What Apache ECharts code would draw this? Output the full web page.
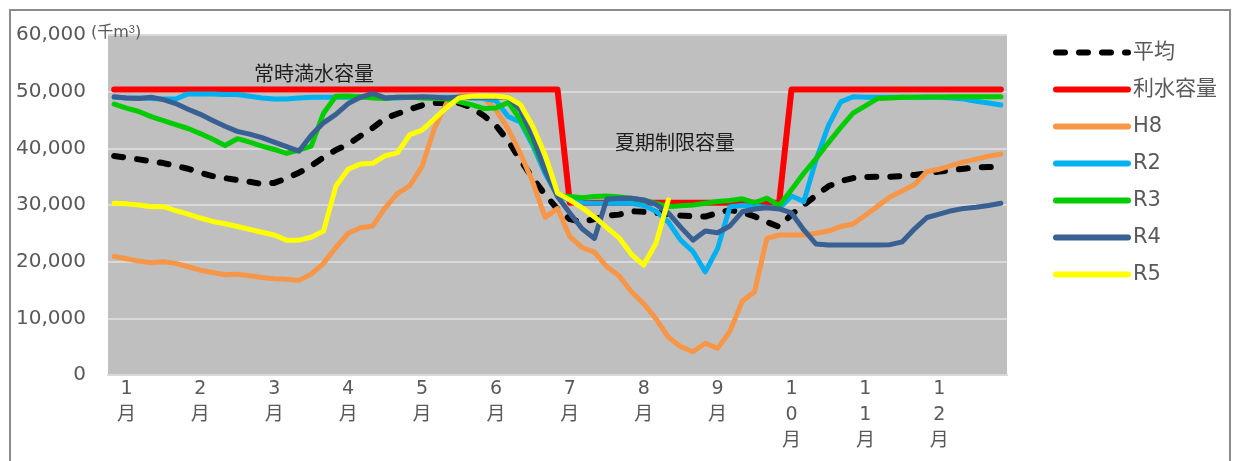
<!DOCTYPE html>
<html><head><meta charset="utf-8">
<script src="https://cdn.jsdelivr.net/npm/echarts@6/dist/echarts.min.js"></script>
<style>html,body{margin:0;padding:0;background:#fff}#c{width:1236px;height:461px}</style>
</head><body><div id="c"></div>
<script>
// Month tick labels (placed at the 2nd 5-day period of each month; 73 periods/year)
const months = ['1月','2月','3月','4月','5月','6月','7月','8月','9月','10月','11月','12月'];
const POINTS = 73;
const yTicks = [0, 10000, 20000, 30000, 40000, 50000, 60000];

const avg = [38650,38350,38050,37700,37400,36900,36400,35700,35100,34750,
 34400,34100,33700,33900,34700,35700,36900,38400,39700,40700,
 42200,43600,45300,46100,46900,47600,48000,48000,48000,47200,
 45800,44000,41300,37900,34700,31800,29300,27500,27000,27500,
 28100,28300,28900,28800,28600,28400,28150,28000,27950,28600,
 29100,28700,28000,27000,26150,28300,30000,31700,33300,34200,
 34750,34950,35000,35000,35100,35300,35600,35900,36150,36400,
 36650,36700,36750];
const capacity = [50400,50400,50400,50400,50400,50400,50400,50400,50400,50400,
 50400,50400,50400,50400,50400,50400,50400,50400,50400,50400,
 50400,50400,50400,50400,50400,50400,50400,50400,50400,50400,
 50400,50400,50400,50400,50400,50400,50400,30400,30400,30400,
 30400,30400,30400,30400,30400,30400,30400,30400,30400,30400,
 30400,30400,30400,30400,30400,50400,50400,50400,50400,50400,
 50400,50400,50400,50400,50400,50400,50400,50400,50400,50400,
 50400,50400,50400];
const h8 = [20900,20500,20100,19800,20000,19700,19100,18500,18100,17700,
 17800,17500,17200,17000,16900,16700,17800,19700,22500,25000,
 26000,26300,29500,32000,33400,36800,43500,48000,49300,49400,
 48900,46800,43400,39000,34000,27800,29400,24400,22500,21700,
 19100,17500,14700,12600,9900,6700,5000,4100,5600,4700,
 7700,13000,14700,24100,24700,24700,24700,25000,25400,26200,
 26650,28200,29800,31400,32500,33600,35900,36300,37000,37600,
 38100,38600,39000];
const r2 = [49000,48900,48900,48800,48700,48700,49600,49600,49600,49500,
 49500,49200,48900,48700,48700,48900,49000,49000,49000,49000,
 49000,49000,48900,48900,49000,49000,49000,49000,49000,48900,
 48800,48400,45600,44600,40500,35500,31700,30900,30400,30300,
 30300,30300,30300,29900,28900,27000,23800,21800,18200,22300,
 29700,29900,29800,29600,29400,31600,30600,38000,44000,48200,
 49100,49000,49000,49000,49000,49000,49000,49000,48900,48700,
 48300,48000,47650];
const r3 = [47800,47100,46500,45600,44900,44200,43500,42600,41600,40500,
 41700,41100,40400,39800,39100,39700,40400,46200,49200,49250,
 49100,48900,48800,49000,49000,48900,48800,48700,48200,47700,
 47050,47100,48100,45000,41000,36200,31700,31500,31300,31500,
 31600,31400,31200,30850,30300,29700,29850,30000,30300,30600,
 30800,31100,30400,31200,29900,32700,35600,38200,41000,43700,
 46200,47500,48800,48900,49000,49000,49050,49050,49100,49100,
 49100,49100,49100];
const r4 = [49100,48900,48800,49000,48600,47900,46900,46000,44900,43900,
 43000,42500,41900,41100,40300,39500,42300,44500,46000,47900,
 49000,49700,48900,49000,49000,49100,49000,48900,49000,49000,
 49000,49000,49000,46700,42000,36000,31500,28600,25800,24100,
 31000,31200,31200,30900,30100,28600,26100,23800,25400,25100,
 26300,28800,29300,29500,29300,28600,25600,23100,22950,22950,
 22950,22950,22950,23000,23500,25800,27800,28400,29000,29400,
 29600,29900,30300];
const r5 = [30300,30200,30000,29700,29700,29000,28400,27700,27100,26700,
 26200,25700,25200,24700,23800,23800,24300,25400,33300,36300,
 37250,37350,38700,39200,42400,43200,45200,47200,48900,49200,
 49250,49200,49000,47700,43800,38800,32100,30900,29500,27900,
 26000,24200,21300,19400,23300,30900,
 null,null,null,null,null,null,null,null,null,null,
 null,null,null,null,null,null,null,null,null,null,
 null,null,null,null,null,null,null];

const categories = [];
for (let i = 0; i < POINTS; i++) {
  categories.push((i - 1) % 6 === 0 && (i - 1) / 6 < months.length ? months[(i - 1) / 6] : '');
}

const FONT = "'DejaVu Sans','Noto Sans CJK JP',sans-serif";
const GRAY = '#595959';

function line(name, data, color, width, extra) {
  return Object.assign({
    name, type: 'line', data, symbol: 'none', showSymbol: false,
    connectNulls: false, animation: false,
    lineStyle: { color, width, cap: 'round', join: 'round' },
    itemStyle: { color }
  }, extra || {});
}

const chart = echarts.init(document.getElementById('c'), null, { renderer: 'canvas' });
chart.setOption({
  animation: false,
  backgroundColor: '#ffffff',
  grid: { left: 108, right: 229, top: 35, bottom: 86, show: true, backgroundColor: '#bfbfbf', borderWidth: 0 },
  xAxis: {
    type: 'category', data: categories, boundaryGap: true,
    axisLine: { show: true, lineStyle: { color: '#d9d9d9', width: 2 } },
    axisTick: { show: false },
    splitLine: { show: false },
    axisLabel: {
      interval: 0, margin: 1, color: GRAY, fontFamily: FONT, fontSize: 19, lineHeight: 26,
      formatter: v => v ? v.split('').join('\n') : ''
    }
  },
  yAxis: {
    type: 'value', min: yTicks[0], max: yTicks[yTicks.length - 1], interval: 10000,
    axisLine: { show: false }, axisTick: { show: false },
    splitLine: { show: true, lineStyle: { color: '#d9d9d9', width: 2 } },
    axisLabel: {
      margin: 22, color: GRAY, fontFamily: FONT, fontSize: 20,
      formatter: v => v.toLocaleString('en-US')
    }
  },
  legend: {
    orient: 'vertical', left: 1048, top: 37, itemWidth: 72, itemHeight: 12, itemGap: 16,
    itemStyle: { opacity: 0 },
    lineStyle: { width: 6, cap: 'round' },
    textStyle: { color: GRAY, fontFamily: FONT, fontSize: 21 },
    data: ['平均', '利水容量', 'H8', 'R2', 'R3', 'R4', 'R5']
  },
  graphic: [
    { type: 'rect', shape: { x: 10, y: 10, width: 1220, height: 470 }, style: { fill: 'none', stroke: '#8c8c8c', lineWidth: 2 }, z: 100 },
    { type: 'text', x: 91, y: 33, style: {
        text: '(千m{s|3})', fill: GRAY, font: "16px 'DejaVu Sans','Noto Sans CJK JP',sans-serif", textVerticalAlign: 'middle',
        rich: { s: { fontSize: 11, verticalAlign: 'top', padding: [0, 0, 6, 0], fill: GRAY } } }, z: 100 },
    { type: 'text', x: 314, y: 73, style: { text: '常時満水容量', fill: '#1f1f1f', font: "20px 'Noto Sans CJK JP',sans-serif", textAlign: 'center', textVerticalAlign: 'middle' }, z: 100 },
    { type: 'text', x: 675, y: 142, style: { text: '夏期制限容量', fill: '#1f1f1f', font: "20px 'Noto Sans CJK JP',sans-serif", textAlign: 'center', textVerticalAlign: 'middle' }, z: 100 }
  ],
  series: [
    line('平均', avg, '#000000', 6, { lineStyle: { color: '#000000', width: 6, type: [9, 14], cap: 'round', join: 'round' } }),
    line('利水容量', capacity, '#ff0000', 6),
    line('H8', h8, '#f79646', 5),
    line('R2', r2, '#00b0f0', 5),
    line('R3', r3, '#00cc00', 5),
    line('R4', r4, '#386092', 5),
    line('R5', r5, '#ffff00', 5)
  ]
});
</script></body></html>
